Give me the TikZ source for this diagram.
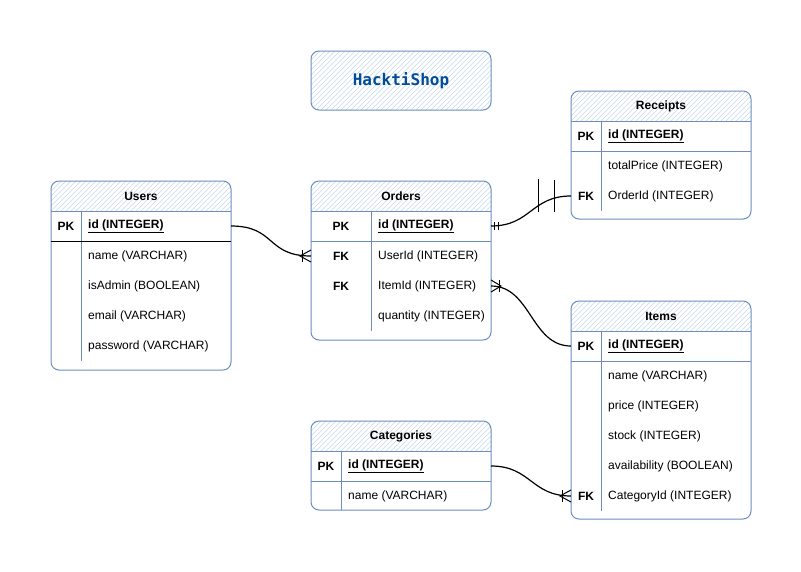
\documentclass[tikz,border=0pt]{standalone}
\usepackage{fontspec}
\setmainfont{Liberation Sans}
\newfontfamily\monob{DejaVu Sans Mono}
\definecolor{erblue}{HTML}{6C8EBF}
\definecolor{hatchblue}{HTML}{C9D8EC}
\definecolor{titleblue}{HTML}{004C99}
\tikzset{
  tframe/.style={draw=erblue, line width=1pt, rounded corners=8pt, inner sep=0pt, outer sep=0pt, anchor=north west},
  hatchln/.style={draw=hatchblue, line width=0.6pt},
  sepln/.style={draw=erblue, line width=1pt},
  keytxt/.style={font=\bfseries\fontsize{12}{14}\selectfont, inner sep=0pt},
  fldtxt/.style={font=\fontsize{12}{14}\selectfont, anchor=west, inner sep=0pt},
  pktxt/.style={fldtxt, font=\bfseries\fontsize{12}{14}\selectfont},
  ttl/.style={font=\bfseries\fontsize{12}{14}\selectfont, inner sep=0pt},
  conn/.style={draw=black, line width=1.2pt},
  erend/.style={draw=black, line width=1pt},
}
% #1 name, #2 X, #3 Y, #4 height, #5 key column width, #6 rows
\newcommand\ertab[6]{%
  \begin{scope}
    \clip[rounded corners=8pt] (#2,#3) rectangle ++(180,#4);
    \clip (#2,#3) rectangle ++(180,30);
    \foreach \i in {-40,-35,...,180} \draw[hatchln] (#2+\i,#3+35) -- ++(45,-45);
  \end{scope}
  \node[tframe, minimum width=180pt, minimum height=#4pt] (#1) at (#2,#3) {};
  \draw[sepln] (#2,#3+30) -- ++(180,0);
  \draw[sepln] (#2+#5,#3+30) -- ++(0,30*#6);
}
\begin{document}
\begin{tikzpicture}[x=1pt,y=-1pt]
\fill[white] (0,0) rectangle (801,571);
\useasboundingbox (0,0) rectangle (801,571);

% ---- title box
\begin{scope}
  \clip[rounded corners=8pt] (311,51) rectangle (491,110);
  \foreach \i in {-70,-65,...,180} \draw[hatchln] (311+\i,115) -- ++(70,-70);
\end{scope}
\node[tframe, minimum width=180pt, minimum height=59pt] (shop) at (311,51) {};
\node[font=\monob\bfseries\fontsize{16}{18}\selectfont, text=titleblue] (shopt) at (shop.center) {HacktiShop};

% ---- Users
\ertab{users}{51}{181}{189}{30}{5}
\draw[draw=black, line width=1pt] (51,241) -- ++(180,0);
\node[ttl] (users-t) at (141,196) {Users};
\node[keytxt] (users-idk) at (66,226) {PK};
\node[pktxt] (users-id) at (88,226) {\underline{id (INTEGER)}};
\node[fldtxt] (users-name) at (88,256) {name (VARCHAR)};
\node[fldtxt] (users-admin) at (88,286) {isAdmin (BOOLEAN)};
\node[fldtxt] (users-email) at (88,316) {email (VARCHAR)};
\node[fldtxt] (users-pw) at (88,346) {password (VARCHAR)};

% ---- Orders
\ertab{orders}{311}{181}{159}{60}{4}
\draw[sepln] (311,241) -- ++(180,0);
\node[ttl] (orders-t) at (401,196) {Orders};
\node[keytxt] (orders-idk) at (341,226) {PK};
\node[pktxt] (orders-id) at (378,226) {\underline{id (INTEGER)}};
\node[keytxt] (orders-userk) at (341,256) {FK};
\node[fldtxt] (orders-userid) at (378,256) {UserId (INTEGER)};
\node[keytxt] (orders-itemk) at (341,286) {FK};
\node[fldtxt] (orders-itemid) at (378,286) {ItemId (INTEGER)};
\node[fldtxt] (orders-qty) at (378,316) {quantity (INTEGER)};

% ---- Receipts
\ertab{receipts}{571}{91}{128}{30}{3}
\draw[sepln] (571,151) -- ++(180,0);
\node[ttl] (receipts-t) at (661,106) {Receipts};
\node[keytxt] (receipts-idk) at (586,136) {PK};
\node[pktxt] (receipts-id) at (608,136) {\underline{id (INTEGER)}};
\node[fldtxt] (receipts-total) at (608,166) {totalPrice (INTEGER)};
\node[keytxt] (receipts-ordk) at (586,196) {FK};
\node[fldtxt] (receipts-orderid) at (608,196) {OrderId (INTEGER)};

% ---- Items
\ertab{items}{571}{301}{218}{30}{6}
\draw[sepln] (571,361) -- ++(180,0);
\node[ttl] (items-t) at (661,316) {Items};
\node[keytxt] (items-idk) at (586,346) {PK};
\node[pktxt] (items-id) at (608,346) {\underline{id (INTEGER)}};
\node[fldtxt] (items-name) at (608,376) {name (VARCHAR)};
\node[fldtxt] (items-price) at (608,406) {price (INTEGER)};
\node[fldtxt] (items-stock) at (608,436) {stock (INTEGER)};
\node[fldtxt] (items-avail) at (608,466) {availability (BOOLEAN)};
\node[keytxt] (items-catk) at (586,496) {FK};
\node[fldtxt] (items-catid) at (608,496) {CategoryId (INTEGER)};

% ---- Categories
\ertab{cat}{311}{421}{89}{30}{1.97}
\draw[sepln] (311,481) -- ++(180,0);
\node[ttl] (cat-t) at (401,436) {Categories};
\node[keytxt] (cat-idk) at (326,466) {PK};
\node[pktxt] (cat-id) at (348,466) {\underline{id (INTEGER)}};
\node[fldtxt] (cat-name) at (348,496) {name (VARCHAR)};

% ---- connectors
\coordinate (u1) at (users-id -| users.east);
\coordinate (o1) at (orders-userid -| orders.west);
\draw[conn] (u1) .. controls +(45,0) and +(-45,0) .. (o1);
\draw[erend] (o1) ++(0,-6) -- ++(-11,6) -- ++(11,6);
\draw[erend] (o1) ++(-9,-6) -- ++(0,12);

\coordinate (o2) at (orders-id -| orders.east);
\coordinate (r2) at (receipts-orderid -| receipts.west);
\draw[conn] (o2) .. controls +(40,0) and +(-40,0) .. (r2);
\draw[erend] (o2) ++(3,-4) -- ++(0,8);
\draw[erend] (o2) ++(7,-4) -- ++(0,8);
\draw[erend] (r2) ++(-33,-17) -- ++(0,33);
\draw[erend] (r2) ++(-17,-16) -- ++(0,32);

\coordinate (o3) at (orders-itemid -| orders.east);
\coordinate (i3) at (items-id -| items.west);
\draw[conn] (o3) .. controls +(40,0) and +(-40,0) .. (i3);
\draw[erend] (o3) ++(0,-6) -- ++(10,6) -- ++(-10,6);
\draw[erend] (o3) ++(8,-6) -- ++(0,12);

\coordinate (c4) at (cat-id -| cat.east);
\coordinate (i4) at (items-catid -| items.west);
\draw[conn] (c4) .. controls +(40,0) and +(-40,0) .. (i4);
\draw[erend] (i4) ++(0,-6) -- ++(-11,6) -- ++(11,6);
\draw[erend] (i4) ++(-9,-6) -- ++(0,12);
\end{tikzpicture}
\end{document}
